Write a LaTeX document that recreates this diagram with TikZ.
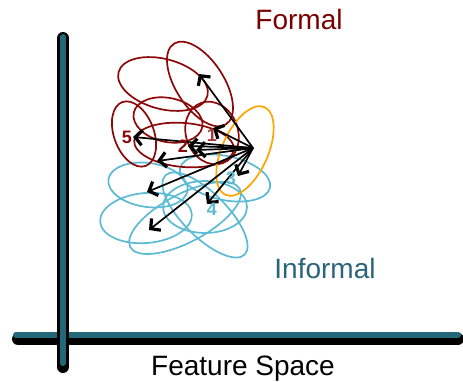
\documentclass[tikz,border=0pt]{standalone}
\usepackage{fontspec}
\setmainfont{Liberation Sans}
\usepackage{xcolor}
\usepackage{tikz}
\usetikzlibrary{arrows.meta}
\definecolor{axisteal}{RGB}{34,104,120}
\definecolor{formalred}{RGB}{120,0,0}
\definecolor{ringred}{RGB}{140,8,8}
\definecolor{ringblue}{RGB}{92,186,212}
\definecolor{ringorange}{RGB}{255,165,0}
\definecolor{informalteal}{RGB}{42,100,122}
\tikzstyle{vec} = [line width=1.7pt,-{Straight Barb[length=7pt,width=15pt,line width=3.2pt]}]
\tikzstyle{formal} = [line width=1.7pt,color=ringred]
\tikzstyle{informal} = [line width=1.7pt,color=ringblue]
\tikzstyle{digit} = [font=\fontsize{18}{18}\selectfont\bfseries,inner sep=0pt]

\begin{document}
\begin{tikzpicture}[x=1pt,y=1pt]
	\useasboundingbox (0,0) rectangle (463,381);
	% Axes:
	% black outline with a teal core, shadow slightly below
	\begin{scope}[line cap=round]
	\draw [line width=12pt,black] (18,42) -- (458,42);
	\draw [line width=6pt,axisteal] (16,46) -- (458,46);
	\draw [line width=12pt,black] (63,343) -- (63,14);
	\draw [line width=6pt,axisteal] (63,344) -- (63,18);
	\end{scope}

	% Informal clusters (light blue):
	\foreach \cx/\cy/\a/\b/\r in {148/196/40/22/-8, 146/163/46/25/5, 185/163/62/24/28,
		205/166/56/22/-45, 225/203/46/22/-12, 205/174/42/26/0}{%
		\draw [informal, rotate around={\r:(\cx,\cy)}] (\cx,\cy) ellipse ({\a} and {\b});
	}
	% Formal clusters (dark red):
	\foreach \cx/\cy/\a/\b/\r in {163/297/46/25/-15, 200/297/24/48/33, 168/261/35/22/-12,
		134/247/20/34/20, 212/248/26/32/20, 184/236/50/22/-5}{%
		\draw [formal, rotate around={\r:(\cx,\cy)}] (\cx,\cy) ellipse ({\a} and {\b});
	}
	% Query cluster (orange):
	\draw [line width=1.7pt,ringorange, rotate around={-24:(245,230)}] (245,230) ellipse (23 and 48);

	% Vectors from the query to its neighbours
	\coordinate (hub) at (253,233);
	\foreach \t/\x/\y in {ta/199/307, tb/213/253, tc/133/244, td/188/235, te/196/231,
		tf/157/220, tg/147/189, th/149/151, ti/238/205, tj/207/177}{%
		\coordinate (\t) at (\x,\y);
		\draw [vec] (hub) -- (\t);
	}

	% Neighbour ranks
	\node [digit,ringred] (five) at (127,244) {5};
	\node [digit,ringred] (two) at (183,235) {2};
	\node [digit,ringred!80] (one) at (212,246) {1};
	\node [digit,ringblue] (three) at (231,203) {3};
	\node [digit,ringblue] (four) at (212,172) {4};

	% Labels
	\begin{scope}[font=\fontsize{28}{30}\selectfont,anchor=base,inner sep=0pt]
	\node [formalred] (formal) at (299,351) {Formal};
	\node [informalteal] (informal) at (325,103) {Informal};
	\node (space) at (243,6) {Feature Space};
	\end{scope}
\end{tikzpicture}
\end{document}
